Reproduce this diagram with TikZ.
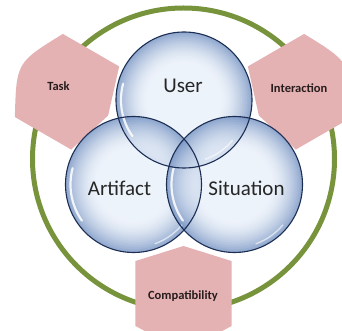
\documentclass[tikz,border=0pt]{standalone}
\usepackage{fontspec}
\setmainfont{Carlito}
\definecolor{ringgreen}{RGB}{119,147,60}
\definecolor{pinkshape}{RGB}{229,178,180}
\definecolor{bubin}{RGB}{234,241,250}
\definecolor{bubout}{RGB}{116,146,194}
\definecolor{bubline}{RGB}{28,46,84}
\definecolor{labeltext}{RGB}{38,38,38}
\definecolor{smalltextcol}{RGB}{40,28,28}
\begin{document}
\begin{tikzpicture}[x=1pt,y=1pt,
  bigtext/.style={font=\fontsize{21}{24}\selectfont, text=labeltext, inner sep=0pt, anchor=base},
  smalltext/.style={font=\bfseries\fontsize{12.5}{14}\selectfont, text=smalltextcol, inner sep=0pt, anchor=base},
  ringstyle/.style={draw=ringgreen, line width=5pt, circle, minimum size=302pt, inner sep=0pt},
  petal/.style={fill=pinkshape, draw=none},
  bubblebase/.style={fill=white, draw=none},
  bubbleline/.style={draw=bubline, line width=1.1pt},
  gloss/.style={draw=white, line width=2.2pt, line cap=round, opacity=0.85}]
\useasboundingbox (-183.5,-172) rectangle (158.5,159);
% outer ring
\node[ringstyle] (ring) at (0,0) {};
% pink petals
\foreach \a in {150,30,-90}{
  \fill[petal, rotate=\a] (87,0) -- (102,48) -- (167,48) .. controls (193,0) .. (167,-48) -- (102,-48) -- cycle;
}
% bubble centres
\coordinate (user) at (0.5,59);
\coordinate (art) at (-50,-25.5);
\coordinate (sit) at (51,-25.5);
% white base
\foreach \c in {user,art,sit}{ \fill[bubblebase] (\c) circle (68); }
% translucent bubbles with stepped radial gradient
\foreach \c in {user,art,sit}{
  \begin{scope}[transparency group, opacity=0.78]
    \foreach \i in {0,...,18}{
      \pgfmathsetmacro\rr{68-1.7*\i}
      \pgfmathsetmacro\pp{100*(1-\i/19)^1.7}
      \fill[bubout!\pp!bubin] (\c) circle (\rr);
    }
  \end{scope}
}
% glossy highlights
\foreach \c in {user,art,sit}{
  \draw[gloss] (\c) ++(165:63) arc[start angle=165, end angle=215, radius=63];
  \draw[gloss, line width=1.4pt, opacity=0.6] (\c) ++(290:63) arc[start angle=290, end angle=320, radius=63];
}
% outlines
\foreach \c in {user,art,sit}{ \draw[bubbleline] (\c) circle (68); }
% labels
\node[bigtext] (userlbl) at (-0.5,66) {User};
\node[bigtext] (artlbl) at (-64,-37) {Artifact};
\node[bigtext] (sitlbl) at (63,-37) {Situation};
\node[smalltext] (tasklbl) at (-125,68) {Task};
\node[smalltext] (interlbl) at (115.5,66) {Interaction};
\node[smalltext] (compatlbl) at (-0.5,-140) {Compatibility};
\end{tikzpicture}
\end{document}
